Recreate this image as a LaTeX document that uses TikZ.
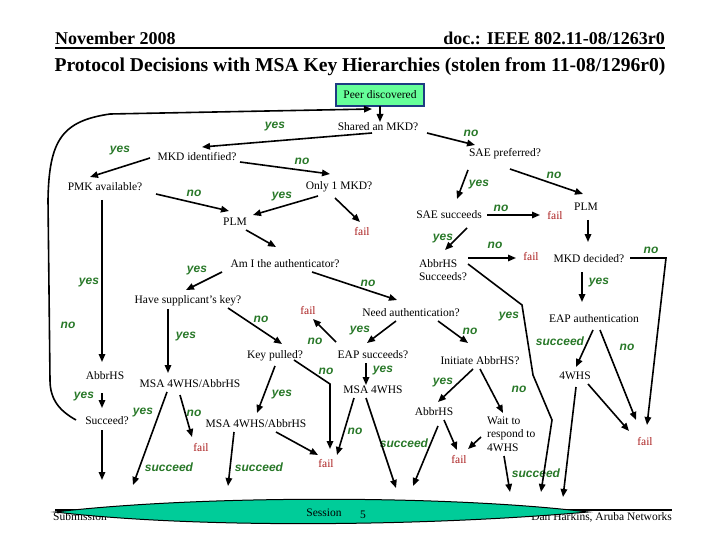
\documentclass[tikz,border=0pt]{standalone}
\usepackage{fontspec}
\setmainfont{Liberation Serif}
\newfontfamily\lblfont{Liberation Sans}
\usetikzlibrary{arrows.meta,calc}
\definecolor{lblgreen}{RGB}{40,120,40}
\definecolor{failred}{RGB}{170,30,30}
\definecolor{peerfill}{RGB}{102,255,153}
\definecolor{peerdraw}{RGB}{30,60,130}
\definecolor{sessfill}{RGB}{0,204,153}
\begin{document}
\begin{tikzpicture}[x=1pt,y=-1pt,
  txt/.style={inner sep=0pt,font=\fontsize{11.5}{13.5}\selectfont},
  lbl/.style={inner sep=0pt,text=lblgreen,font=\lblfont\fontsize{12}{13}\selectfont\bfseries\itshape},
  failtxt/.style={txt,text=failred},
  peerbox/.style={txt,draw=peerdraw,fill=peerfill,line width=1.5pt,minimum width=88pt,minimum height=22pt},
  arr/.style={line width=1.6pt,-{Triangle[length=8pt,width=6.5pt]}},
  ln/.style={line width=1.6pt}]
\useasboundingbox (0,0) rectangle (720,540);
% header
\node[anchor=west,inner sep=0pt,font=\fontsize{18}{20}\selectfont\bfseries] (date) at (55,38) {November 2008};
\node[anchor=east,inner sep=0pt,font=\fontsize{18}{20}\selectfont\bfseries] (doc) at (665,38) {doc.: IEEE 802.11-08/1263r0};
\draw[line width=1.5pt] (55,48) -- (665,48);
\node[inner sep=0pt,font=\fontsize{19.6}{21}\selectfont\bfseries] (title) at (360,67) {Protocol Decisions with MSA Key Hierarchies (stolen from 11-08/1296r0)};
% footer texts (under the lens)
\draw[line width=1.2pt] (55,510) -- (672,510);
\node[txt,anchor=west] (subm) at (53,517) {Submission};
\node[txt,anchor=east] (dan) at (672,517) {Dan Harkins, Aruba Networks};
\draw[fill=sessfill,line width=1pt] (55,512) .. controls (200,495) and (450,495) .. (588,512) .. controls (430,526) and (200,529) .. (55,512) -- cycle;
\node[txt] (sess) at (324,513) {Session};
\node[txt] (pg) at (363,515) {5};
\coordinate (sA) at (102,480);
\coordinate (sB) at (133,485);
\coordinate (sC) at (228,486);
\coordinate (sD) at (396,488);
\coordinate (sE) at (413,486);
\coordinate (sF) at (510,492);
\coordinate (sG) at (541,492);
\coordinate (sH) at (563,497);
% nodes
\node[peerbox] (peer) at (380,95) {Peer discovered};
\node[txt] (shared) at (378,127) {Shared an MKD?};
\node[txt] (mkdid) at (197,157) {MKD identified?};
\node[txt] (pmk) at (105,187) {PMK available?};
\node[txt] (only1) at (339,187) {Only 1 MKD?};
\node[txt] (plmL) at (235,222) {PLM};
\node[failtxt] (fail1) at (362,232) {fail};
\node[txt] (saepref) at (505,154) {SAE preferred?};
\node[txt] (saesucc) at (449,215) {SAE succeeds};
\node[failtxt] (fail2) at (555,216) {fail};
\node[txt] (plmR) at (586,207) {PLM};
\node[txt] (mkddec) at (589,259) {MKD decided?};
\node[txt,align=left] (abbrsucc) at (443,270) {AbbrHS\\Succeeds?};
\node[failtxt] (fail3) at (531,257) {fail};
\node[txt] (amI) at (285,264) {Am I the authenticator?};
\node[txt] (havesupp) at (188,301) {Have supplicant’s key?};
\node[txt] (needauth) at (411,313) {Need authentication?};
\node[txt] (eapauth) at (594,319) {EAP authentication};
\node[failtxt] (fail4) at (308,311) {fail};
\node[txt] (keypulled) at (275,356) {Key pulled?};
\node[txt] (eapsucc) at (373,355) {EAP succeeds?};
\node[txt] (initabbr) at (480,361) {Initiate AbbrHS?};
\node[txt] (msa4whs) at (373,390) {MSA 4WHS};
\node[txt] (fourwhs) at (575,376) {4WHS};
\node[txt] (abbrL) at (105,376) {AbbrHS};
\node[txt] (msaA) at (190,384) {MSA 4WHS/AbbrHS};
\node[txt] (succeedq) at (107,421) {Succeed?};
\node[txt] (msaB) at (256,424) {MSA 4WHS/AbbrHS};
\node[txt] (abbrM) at (434,412) {AbbrHS};
\node[txt,align=left,anchor=west] (wait) at (487,434) {Wait to\\respond to\\4WHS};
\node[failtxt] (fail5) at (201,448) {fail};
\node[failtxt] (fail6) at (326,464) {fail};
\node[failtxt] (fail7) at (459,460) {fail};
\node[failtxt] (fail8) at (645,442) {fail};
% labels
\node[lbl] at (275,127) {yes};
\node[lbl] at (120,151) {yes};
\node[lbl] at (302,161) {no};
\node[lbl] at (471,133) {no};
\node[lbl] at (194,193) {no};
\node[lbl] at (282,197) {yes};
\node[lbl] at (479,185) {yes};
\node[lbl] at (554,175) {no};
\node[lbl] at (501,208) {no};
\node[lbl] at (443,239) {yes};
\node[lbl] at (495,245) {no};
\node[lbl] at (651,250) {no};
\node[lbl] at (599,283) {yes};
\node[lbl] at (197,271) {yes};
\node[lbl] at (368,283) {no};
\node[lbl] at (89,283) {yes};
\node[lbl] at (68,325) {no};
\node[lbl] at (261,319) {no};
\node[lbl] at (186,337) {yes};
\node[lbl] at (360,331) {yes};
\node[lbl] at (315,341) {no};
\node[lbl] at (470,331) {no};
\node[lbl] at (326,371) {no};
\node[lbl] at (383,371) {yes};
\node[lbl] at (282,395) {yes};
\node[lbl] at (509,317) {yes};
\node[lbl] at (560,341) {succeed};
\node[lbl] at (627,347) {no};
\node[lbl] at (443,383) {yes};
\node[lbl] at (519,389) {no};
\node[lbl] at (84,397) {yes};
\node[lbl] at (143,413) {yes};
\node[lbl] at (194,413) {no};
\node[lbl] at (355,431) {no};
\node[lbl] at (169,467) {succeed};
\node[lbl] at (259,467) {succeed};
\node[lbl] at (404,443) {succeed};
\node[lbl] at (536,473) {succeed};
% connectors
\draw[arr] ($(peer)+(0,11)$) -- ($(shared)+(2,-5)$);
\draw[arr] ($(succeedq)+(-31,-1)$) .. controls (60,411) and (50,400) .. (50,380) -- (48,200) .. controls (49,140) and (62,121) .. (110,114) -- ($(peer)+(-8,14)$);
\draw[arr] ($(shared)+(-6,6)$) -- ($(mkdid)+(5,-10)$);
\draw[arr] ($(mkdid)+(-47,1)$) -- ($(pmk)+(-15,-10)$);
\draw[arr] ($(mkdid)+(43,5)$) -- ($(only1)+(-9,-13)$);
\draw[arr] ($(pmk)+(51,7)$) -- ($(plmL)+(-6,-11)$);
\draw[arr] ($(only1)+(-21,9)$) -- ($(plmL)+(18,-7)$);
\draw[arr] ($(only1)+(-4,11)$) -- ($(fail1)+(-2,-10)$);
\draw[arr] ($(shared)+(49,6)$) -- ($(saepref)+(-30,-9)$);
\draw[arr] ($(saepref)+(5,15)$) -- ($(plmR)+(-3,-13)$);
\draw[arr] ($(saepref)+(-37,16)$) -- ($(saesucc)+(8,-16)$);
\draw[arr] ($(saesucc)+(38,0)$) -- ($(fail2)+(-15,-1)$);
\draw[arr] ($(plmR)+(2,13)$) -- ($(mkddec)+(-1,-17)$);
\draw[arr] ($(mkddec)+(41,-1)$) -- (666,258) -- ($(fail8)+(2,-17)$);
\draw[arr] ($(mkddec)+(-7,13)$) -- ($(eapauth)+(-12,-17)$);
\draw[arr] ($(eapauth)+(-1,11)$) -- ($(fourwhs)+(1,-9)$);
\draw[arr] ($(eapauth)+(6,11)$) -- ($(fail8)+(-9,-22)$);
\draw[arr] ($(fourwhs)+(13,8)$) -- ($(fail8)+(-16,-11)$);
\draw[arr] ($(fourwhs)+(1,11)$) -- (sH);
\draw[arr] ($(saesucc)+(18,13)$) -- ($(abbrsucc)+(2,-20)$);
\draw[arr] ($(abbrsucc)+(25,-12)$) -- ($(fail3)+(-15,1)$);
\draw[arr] ($(abbrsucc)+(25,-6)$) -- (522,305) -- (533,375) -- (552,420) -- (sG);
\draw[arr] ($(plmL)+(11,8)$) -- ($(amI)+(-9,-17)$);
\draw[arr] ($(amI)+(-63,8)$) -- ($(havesupp)+(-2,-11)$);
\draw[arr] ($(amI)+(27,8)$) -- ($(needauth)+(-14,-13)$);
\draw[arr] ($(havesupp)+(40,7)$) -- ($(keypulled)+(7,-12)$);
\draw[arr] ($(havesupp)+(-20,8)$) -- ($(msaA)+(-22,-11)$);
\draw[arr] ($(pmk)+(-3,13)$) -- ($(abbrL)+(-3,-14)$);
\draw[arr] ($(abbrL)+(-3,17)$) -- ($(succeedq)+(-5,-13)$);
\draw[arr] ($(succeedq)+(-5,9)$) -- (sA);
\draw[arr] ($(msaA)+(-10,11)$) -- ($(fail5)+(-9,-11)$);
\draw[arr] ($(msaA)+(-23,8)$) -- (sB);
\draw[arr] ($(keypulled)+(0,10)$) -- ($(msaB)+(1,-11)$);
\draw[arr] ($(keypulled)+(19,4)$) -- (330,384) -- ($(fail6)+(4,-15)$);
\draw[arr] ($(msaB)+(-22,8)$) -- (sC);
\draw[arr] ($(msaB)+(20,8)$) -- ($(fail6)+(-8,-9)$);
\draw[arr] ($(needauth)+(-15,8)$) -- ($(eapsucc)+(-6,-12)$);
\draw[arr] ($(needauth)+(27,8)$) -- ($(initabbr)+(-12,-18)$);
\draw[arr] ($(eapsucc)+(-37,-13)$) -- ($(fail4)+(5,8)$);
\draw[arr] ($(eapsucc)+(-7,8)$) -- ($(msa4whs)+(-7,-5)$);
\draw[arr] ($(msa4whs)+(-19,8)$) -- ($(fail6)+(11,-9)$);
\draw[arr] ($(msa4whs)+(-7,8)$) -- (sD);
\draw[arr] ($(initabbr)+(-7,8)$) -- ($(abbrM)+(4,-10)$);
\draw[arr] ($(initabbr)+(0,8)$) -- ($(wait.west)+(16,-21)$);
\draw[arr] ($(abbrM)+(10,8)$) -- ($(fail7)+(-2,-10)$);
\draw[arr] ($(abbrM)+(4,14)$) -- (sE);
\draw[arr] ($(wait.west)+(-6,3)$) -- ($(fail7)+(9,-11)$);
\draw[arr] ($(wait.west)+(17,22)$) -- (sF);
\end{tikzpicture}
\end{document}
